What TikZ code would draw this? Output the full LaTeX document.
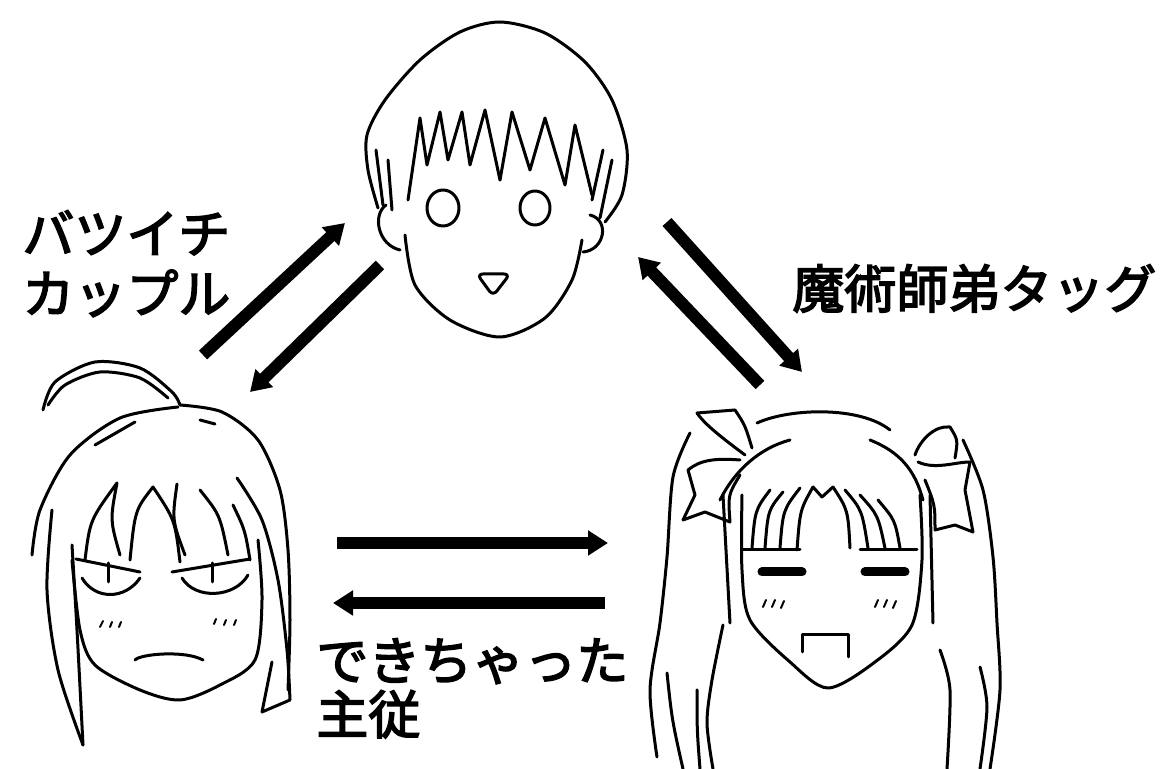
\documentclass[tikz,border=0pt]{standalone}
\usepackage{fontspec}
\usetikzlibrary{arrows.meta, positioning}
\newfontfamily\jpfont[FakeBold=3]{Noto Sans CJK JP}

\begin{document}
\begin{tikzpicture}[x=0.5pt, y=-0.5pt,
    face/.style={line width=1.5pt, line cap=round, line join=round},
    rel/.style={line width=6pt, ->},
    >={Triangle[length=10pt, width=12pt]},
    lbl/.style={font=\jpfont\fontsize{26}{30}\selectfont, align=left, anchor=north west, inner sep=0pt}]

   \useasboundingbox (0,0) rectangle (1164,769);

   % boy on top
   \draw[face] plot[smooth] coordinates {(378,208) (368,170) (367,135) (385,100) (420,60) (460,32) (500,22) (545,33) (585,62) (612,100) (627,150) (622,195) (605,222)};
   \draw[face] (408,200) -- (420,118) -- (427,165) -- (440,112) -- (448,160) -- (462,112) -- (470,165) -- (485,110) -- (500,180);
   \draw[face] (500,180) -- (512,112) -- (530,170) -- (545,118) -- (565,185) -- (575,125) -- (592,195);
   \draw[face] (383,205) -- (376,150) (392,210) -- (388,160) (600,218) -- (612,160) (592,200) -- (603,150);
   \draw[face] (386,205) .. controls (372,215) and (378,245) .. (400,250);
   \draw[face] plot[smooth] coordinates {(405,235) (415,285) (450,320) (500,337) (545,318) (572,280) (582,240)};
   \draw[face] (590,215) .. controls (610,220) and (605,250) .. (583,252);
   \draw[face] (443,208) ellipse [x radius=16, y radius=18];
   \draw[face] (535,208) ellipse [x radius=15, y radius=17];
   \draw[face, rounded corners=3pt] (477,274) -- (510,274) -- (493,296) -- cycle;

   % girl on the left
   \draw[face] plot[smooth] coordinates {(43,410) (55,382) (95,362) (140,368) (172,392) (180,405)};
   \draw[face] plot[smooth] coordinates {(48,405) (65,385) (100,372) (140,378) (168,398)};
   \draw[face] plot[smooth] coordinates {(178,407) (120,418) (70,455) (40,510) (32,555)};
   \draw[face] plot[smooth] coordinates {(180,405) (222,412) (258,440) (280,490) (288,550) (290,620) (288,690)};
   \draw[face] (135,422) -- (95,445) (200,420) -- (215,424);
   \draw[face] plot[smooth] coordinates {(52,510) (47,590) (58,670) (83,745)};
   \draw[face] plot[smooth] coordinates {(72,545) (77,630) (83,745)};
   \draw[face] plot[smooth] coordinates {(72,560) (80,630) (95,665) (140,690) (180,700) (220,685) (255,660) (262,600) (258,540)};
   \draw[face] plot[smooth] coordinates {(237,478) (262,520) (278,580) (287,650) (290,700)};
   \draw[face] (272,662) -- (262,712) -- (290,700);
   \draw[face] (85,560) .. controls (90,520) .. (117,483) .. controls (110,520) .. (120,555);
   \draw[face] (130,560) .. controls (135,510) .. (153,487) .. controls (175,520) .. (180,562);
   \draw[face] (177,484) .. controls (172,520) .. (185,555);
   \draw[face] (200,490) .. controls (220,515) .. (228,555);
   \draw[face] (233,505) .. controls (245,530) .. (250,560);
   \draw[face] (76,559) -- (140,572) (172,572) -- (250,559);
   \draw[face] (82,578) .. controls (95,600) and (125,600) .. (140,578);
   \draw[face] (182,578) .. controls (195,600) and (235,598) .. (248,575);
   \draw[face] (108,563) -- (108,582) (212,563) -- (212,582);
   \draw[face, line width=1pt] (100,627) -- (103,621) (110,627) -- (112,622) (119,627) -- (121,622)
                               (214,624) -- (216,619) (224,625) -- (226,620) (234,625) -- (236,620);
   \draw[face] (135,660) .. controls (140,654) and (185,650) .. (203,660);

   % girl on the right
   \draw[face] (757,423) .. controls (790,408) and (860,406) .. (890,430);
   \draw[face] (720,500) .. controls (735,470) and (760,448) .. (790,440);
   \draw[face] (870,440) .. controls (900,452) and (915,470) .. (923,500);
   \draw[face] plot[smooth] coordinates {(742,495) (742,570) (750,620) (790,662) (828,688) (875,662) (912,625) (922,560) (920,495)};
   \draw[face] (723,495) -- (730,623) (930,495) -- (933,623);
   \draw[face] (752,548) .. controls (755,510) .. (770,490) (765,548) .. controls (768,510) .. (783,492)
               (780,548) .. controls (783,510) .. (800,488) (797,550) .. controls (800,510) .. (813,487);
   \draw[face] (813,487) -- (822,497) -- (833,487);
   \draw[face] (833,487) .. controls (848,510) .. (850,548) (845,490) .. controls (862,510) .. (868,548)
               (860,495) .. controls (878,515) .. (885,548) (878,500) .. controls (895,520) .. (900,548);
   \draw[face] (743,550) -- (800,550) (860,550) -- (917,550);
   \draw[line width=4.5pt, line cap=round] (762,572) -- (802,572) (865,572) -- (905,572);
   \draw[face, line width=1pt] (763,607) -- (766,600) (772,607) -- (775,600) (781,608) -- (784,601)
                               (875,607) -- (878,600) (884,607) -- (887,600) (893,608) -- (896,601);
   \draw[face] (802,652) -- (802,635) -- (848,635) -- (848,657);
   % bows
   \draw[face] (745,455) .. controls (725,440) and (705,425) .. (697,413) -- (735,410) .. controls (745,425) .. (752,448);
   \draw[face] (740,460) .. controls (715,458) and (700,460) .. (688,470) -- (695,495) -- (683,520) -- (705,512) -- (730,522) .. controls (728,495) .. (740,475);
   \draw[face] (915,455) .. controls (920,440) and (935,425) .. (950,427) .. controls (958,440) .. (955,458);
   \draw[face] (918,462) .. controls (935,470) and (955,462) .. (970,462) -- (965,490) -- (973,532) -- (955,525) -- (935,530) .. controls (935,505) .. (925,480);
   % twin tails
   \draw[face] plot[smooth] coordinates {(690,433) (673,477) (667,557) (660,623) (650,690) (657,757)};
   \draw[face] (667,673) .. controls (672,720) .. (683,769) (697,690) .. controls (697,730) .. (700,769);
   \draw[face] plot[smooth] coordinates {(723,625) (712,680) (707,723) (713,769)};
   \draw[face] plot[smooth] coordinates {(963,440) (983,490) (993,557) (997,623) (1000,690) (990,769)};
   \draw[face] plot[smooth] coordinates {(940,650) (950,690) (947,769)};
   \draw[face] plot[smooth] coordinates {(980,667) (987,707) (980,769)};

   % arrow ends
   \coordinate (saberUp) at (203,355);
   \coordinate (shirouIn) at (345,223);
   \coordinate (shirouOut) at (380,265);
   \coordinate (saberIn) at (250,392);
   \coordinate (shirouR) at (667,222);
   \coordinate (rinIn) at (802,372);
   \coordinate (rinUp) at (760,385);
   \coordinate (shirouRIn) at (638,257);
   \coordinate (saberR) at (337,543);
   \coordinate (rinL) at (608,543);
   \coordinate (rinOut) at (605,603);
   \coordinate (saberL) at (333,603);

   \path[rel]
    (saberUp) edge (shirouIn)
    (shirouOut) edge (saberIn)
    (shirouR) edge (rinIn)
    (rinUp) edge (shirouRIn)
    (saberR) edge (rinL)
    (rinOut) edge (saberL);

   \node[lbl] (batsu) at (22,210) {バツイチ\\カップル};
   \node[lbl] (majutsu) at (792,264) {魔術師弟タッグ};
   \node[lbl, font=\jpfont\fontsize{26}{27}\selectfont] (dekicha) at (316,638) {できちゃった\\主従};
\end{tikzpicture}
\end{document}
